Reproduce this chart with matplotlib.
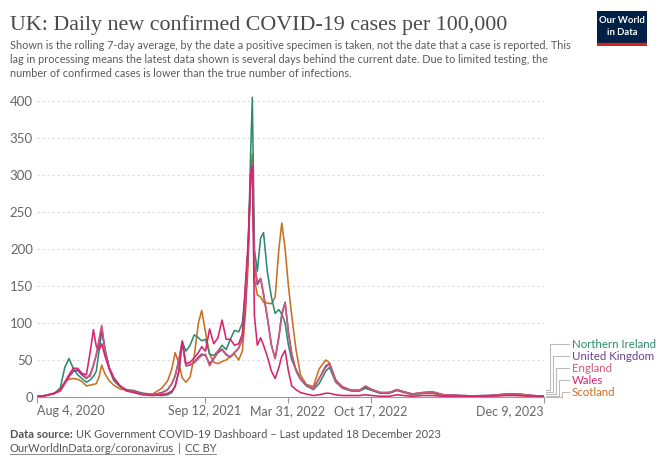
import matplotlib
matplotlib.use("Agg")
import matplotlib.pyplot as plt
from matplotlib.lines import Line2D
from matplotlib.patches import Rectangle
import pandas as pd

W, H = 660, 466

dates = ["2020-08-04","2020-08-25","2020-09-15","2020-09-29","2020-10-10","2020-10-20","2020-10-31","2020-11-10","2020-11-20","2020-12-01","2020-12-10","2020-12-18","2020-12-25",
         "2021-01-01","2021-01-07","2021-01-15","2021-01-25","2021-02-05","2021-02-20","2021-03-08","2021-03-25","2021-04-15","2021-05-10","2021-06-01","2021-06-15","2021-06-25","2021-07-03","2021-07-12","2021-07-20","2021-07-29","2021-08-08","2021-08-18","2021-08-28","2021-09-05","2021-09-14","2021-09-24","2021-10-04","2021-10-14","2021-10-24","2021-11-03","2021-11-13","2021-11-23","2021-12-03","2021-12-12","2021-12-19","2021-12-26",
         "2022-01-01","2022-01-05","2022-01-10","2022-01-17","2022-01-25","2022-02-01","2022-02-10","2022-02-20","2022-03-01","2022-03-10","2022-03-17","2022-03-25","2022-04-02","2022-04-10","2022-04-20","2022-05-01","2022-05-15","2022-06-01","2022-06-15","2022-07-01","2022-07-10","2022-07-25","2022-08-10","2022-09-01","2022-09-20","2022-10-05","2022-10-20","2022-11-10","2022-12-01","2022-12-20",
         "2023-01-05","2023-01-25","2023-02-20","2023-03-15","2023-04-10","2023-05-15","2023-06-20","2023-08-01","2023-09-10","2023-10-10","2023-11-10","2023-12-09"]

northern_ireland = [0.5, 2, 5, 12, 40, 52, 38, 30, 25, 20, 23, 28, 35,
                    65, 89, 65, 38, 22, 14, 10, 8, 5, 3, 2, 3, 6, 15, 35, 75, 62, 70, 84, 80, 76, 78, 58, 56, 62, 70, 64, 78, 90, 88, 100, 140, 200,
                    330, 405, 200, 170, 215, 222, 170, 135, 113, 118, 112, 100, 70, 50, 38, 25, 15, 10, 18, 35, 40, 20, 12, 8, 8, 12, 9, 5, 5, 9,
                    7, 4, 5, 6, 3, 2, 1.5, 2, 4, 3, 2, 1]
united_kingdom = [0.5, 2, 5, 8, 18, 27, 35, 36, 30, 25, 30, 43, 57,
                  76, 94, 62, 40, 26, 15, 9, 7, 4, 3, 6, 10, 18, 29, 50, 74, 42, 43, 47, 54, 58, 56, 45, 52, 60, 64, 57, 54, 60, 66, 78, 120, 200,
                  300, 315, 180, 152, 160, 138, 108, 70, 52, 82, 112, 128, 88, 58, 36, 24, 16, 11, 25, 42, 45, 22, 13, 9, 9, 14, 10, 6, 6, 10,
                  7, 4, 6, 7, 3, 2, 1.5, 2, 4, 4, 2, 1]
england = [0.5, 2, 5, 8, 18, 28, 38, 39, 32, 26, 28, 42, 58,
           80, 97, 63, 40, 26, 15, 9, 7, 4, 3, 5, 10, 18, 28, 50, 76, 42, 44, 46, 52, 56, 58, 42, 52, 62, 65, 58, 54, 60, 66, 80, 125, 200,
           300, 315, 180, 155, 160, 140, 108, 70, 52, 80, 110, 127, 85, 58, 36, 24, 16, 11, 25, 40, 45, 22, 12, 9, 9, 15, 10, 6, 6, 10,
           7, 4, 6, 7, 3, 2, 1.5, 2, 4, 4, 2, 1]
wales = [0.5, 2, 5, 10, 20, 30, 39, 38, 32, 30, 60, 91, 68,
         64, 72, 55, 38, 25, 15, 8, 6, 3, 2, 3, 5, 8, 14, 35, 75, 45, 47, 53, 60, 68, 62, 92, 72, 80, 104, 78, 78, 70, 72, 85, 150, 210,
         300, 312, 110, 70, 80, 70, 55, 35, 25, 40, 55, 63, 35, 15, 10, 6, 4, 2, 3, 5, 5, 3, 2, 2, 2, 3, 2, 1, 1, 3,
         2, 1, 2, 2, 1, 1, 1, 1, 2, 2, 1, 1]
scotland = [0.5, 2, 5, 10, 20, 24, 25, 24, 21, 15, 16, 17, 18,
            28, 43, 31, 22, 16, 11, 9, 9, 5, 4, 12, 22, 38, 60, 45, 26, 20, 27, 55, 100, 117, 88, 58, 47, 45, 48, 50, 55, 58, 50, 62, 110, 180,
            300, 328, 160, 138, 135, 128, 127, 126, 135, 200, 235, 200, 150, 110, 65, 30, 17, 14, 38, 50, 46, 23, 14, 9, 9, 12, 9, 5, 6, 9,
            6, 3, 5, 5, 2, 2, 1.5, 1.5, 3, 2, 1, 1]

series_names = ["Northern Ireland", "United Kingdom", "England", "Wales", "Scotland"]
series_values = [northern_ireland, united_kingdom, england, wales, scotland]
series_colors = ["#2e8b6f", "#6d3e91", "#cf5a7a", "#d6236f", "#c8701f"]
draw_order = [4, 0, 1, 2, 3]

x_ticks = ["2020-08-04", "2021-09-12", "2022-03-31", "2022-10-17", "2023-12-09"]
x_tick_labels = ["Aug 4, 2020", "Sep 12, 2021", "Mar 31, 2022", "Oct 17, 2022", "Dec 9, 2023"]
y_ticks = [0, 50, 100, 150, 200, 250, 300, 350, 400]

title = "UK: Daily new confirmed COVID-19 cases per 100,000"
subtitle = ["Shown is the rolling 7-day average, by the date a positive specimen is taken, not the date that a case is reported. This",
            "lag in processing means the latest data shown is several days behind the current date. Due to limited testing, the",
            "number of confirmed cases is lower than the true number of infections."]

plt.rcParams['font.family'] = ['Lato', 'DejaVu Sans']

fig = plt.figure(figsize=(W / 100, H / 100), dpi=100)

def fx(x):
    return x / W

def fy(y):
    return 1 - y / H

ax_left, ax_right, ax_bottom, ax_top = 37, 544, 397, 93.6
ax = fig.add_axes([fx(ax_left), fy(ax_bottom), (ax_right - ax_left) / W, (ax_bottom - ax_top) / H])

d = pd.to_datetime(dates)
for i in draw_order:
    ax.plot(d, series_values[i], color=series_colors[i], lw=1.15, solid_joinstyle="round", zorder=3)

ax.set_xlim(pd.Timestamp("2020-08-04"), pd.Timestamp("2023-12-09"))
ax.set_ylim(0, 410)
ax.set_yticks(y_ticks)
ax.set_yticklabels([str(v) for v in y_ticks])
for v in y_ticks[1:]:
    ax.axhline(v, color="#dadada", lw=0.8, ls=(0, (2, 2.5)), zorder=1)

xt = pd.to_datetime(x_ticks)
ax.set_xticks(xt)
ax.set_xticklabels(x_tick_labels)
labels = ax.get_xticklabels()
labels[0].set_horizontalalignment("left")
labels[-1].set_horizontalalignment("right")

for s in ["top", "right", "left"]:
    ax.spines[s].set_visible(False)
ax.spines["bottom"].set_color("#999999")
ax.spines["bottom"].set_linewidth(0.8)
ax.tick_params(axis="x", colors="#999999", length=4, width=0.8, labelcolor="#666666", labelsize=9, pad=2)
ax.tick_params(axis="y", length=0, labelcolor="#666666", labelsize=9.5, pad=3)
ax.patch.set_alpha(0)

# Title and subtitle
fig.text(fx(10), fy(30), title, family=["Liberation Serif", "DejaVu Serif"], fontsize=15.8, color="#4a4a4a", va="baseline")
for k, line in enumerate(subtitle):
    fig.text(fx(10), fy(49 + k * 14), line, fontsize=7.85, color="#5b5b5b", va="baseline")

# Legend labels with connectors
label_y = [344, 356, 368, 380, 392]
start_y = [390, 392, 394, 395.5, 397]
vert_x = [550, 553, 556, 559, 562]
for i in range(5):
    fig.text(fx(572), fy(label_y[i]), series_names[i], fontsize=8.3, color=series_colors[i], va="center")
    xs = [546, vert_x[i], vert_x[i], 569]
    ys = [start_y[i], start_y[i], label_y[i], label_y[i]]
    fig.add_artist(Line2D([fx(x) for x in xs], [fy(y) for y in ys], color="#bbbbbb", lw=0.8))

# Logo
logo = fig.add_axes([fx(597), fy(46), 50 / W, 35 / H])
logo.set_xlim(0, 1)
logo.set_ylim(0, 1)
logo.axis("off")
logo.add_patch(Rectangle((0, 0.09), 1, 0.91, color="#002147"))
logo.add_patch(Rectangle((0, 0), 1, 0.09, color="#ce261e"))
logo.text(0.5, 0.72, "Our World", color="white", fontsize=6.8, ha="center", va="center", weight="bold", family=["Lato", "DejaVu Sans"])
logo.text(0.5, 0.38, "in Data", color="white", fontsize=6.8, ha="center", va="center", weight="bold", family=["Lato", "DejaVu Sans"])

# Footer
fig.canvas.draw()
r = fig.canvas.get_renderer()
t1 = fig.text(fx(10), fy(438), "Data source:", fontsize=8, color="#555555", weight="bold", va="baseline")
bb = t1.get_window_extent(r)
fig.text(bb.x1 / W + 3 / W, fy(438), "UK Government COVID-19 Dashboard \u2013 Last updated 18 December 2023",
         fontsize=8, color="#555555", va="baseline")
t3 = fig.text(fx(10), fy(452), "OurWorldInData.org/coronavirus", fontsize=8, color="#555555", va="baseline")
b3 = t3.get_window_extent(r)
fig.add_artist(Line2D([b3.x0 / W, b3.x1 / W], [fy(454), fy(454)], color="#777777", lw=0.6))
t4 = fig.text(b3.x1 / W + 4 / W, fy(452), "|", fontsize=8, color="#555555", va="baseline")
b4 = t4.get_window_extent(r)
t5 = fig.text(b4.x1 / W + 4 / W, fy(452), "CC BY", fontsize=8, color="#555555", va="baseline")
b5 = t5.get_window_extent(r)
fig.add_artist(Line2D([b5.x0 / W, b5.x1 / W], [fy(454), fy(454)], color="#777777", lw=0.6))

fig.savefig("out.png", dpi=100)
